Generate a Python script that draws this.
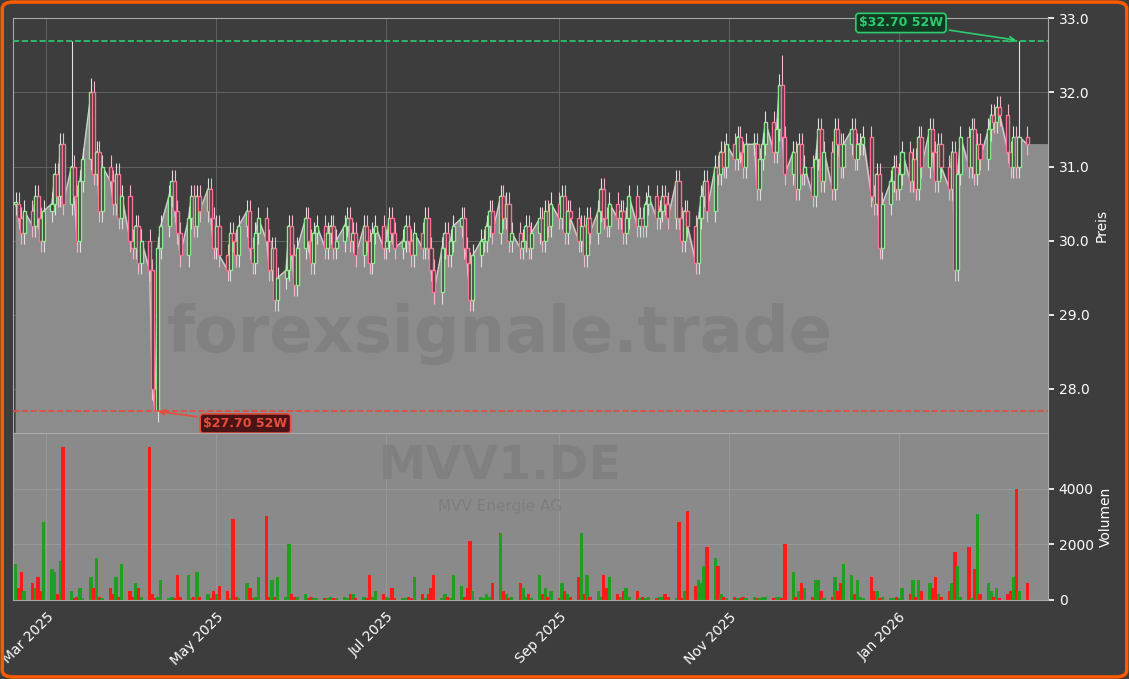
import numpy as np, pandas as pd, matplotlib
matplotlib.use("Agg")
import matplotlib.pyplot as plt, seaborn as sns
import matplotlib.dates as mdates
from matplotlib.patches import FancyBboxPatch

closes = [30.5,30.3,30.1,30.4,30.2,30.6,30.3,30.0,30.4,30.5,
 30.9,30.6,31.3,30.5,31.0,30.6,30.0,30.8,31.1,32.0,
 30.9,31.2,30.4,31.0,30.8,30.5,30.9,30.3,30.6,30.0,
 29.9,30.2,29.7,30.0,29.6,28.0,27.7,29.9,30.2,30.6,
 30.8,30.4,30.1,29.8,30.3,30.6,30.2,30.6,30.4,30.7,
 30.3,29.9,30.2,29.8,29.6,30.1,30.0,29.8,30.2,30.4,
 29.9,29.7,30.1,30.3,30.0,29.6,29.9,29.2,29.5,29.6,
 30.2,29.8,29.4,29.9,30.3,30.0,29.7,30.1,30.2,29.9,
 30.1,30.2,29.9,30.0,30.2,30.3,30.0,30.1,29.8,30.2,
 30.0,29.7,30.1,30.2,29.9,30.0,30.3,30.1,29.9,30.0,
 30.2,30.0,29.8,30.1,29.9,30.3,29.9,29.6,29.3,29.9,
 30.1,29.8,30.0,30.2,30.3,29.9,29.7,29.2,29.8,30.0,
 30.0,30.2,30.4,30.1,30.6,30.3,30.5,30.0,30.1,29.9,
 30.0,30.2,29.9,30.1,30.3,30.0,30.4,30.2,30.5,30.3,
 30.6,30.1,30.4,30.3,30.0,30.2,29.8,30.3,30.1,30.4,
 30.7,30.3,30.2,30.5,30.3,30.4,30.1,30.3,30.6,30.2,
 30.3,30.2,30.5,30.6,30.3,30.4,30.6,30.5,30.3,30.8,
 30.3,30.0,30.4,30.2,29.7,30.3,30.6,30.8,30.4,31.0,
 30.9,31.2,31.0,31.3,31.1,31.4,31.2,31.0,31.3,31.3,
 30.7,31.1,31.3,31.6,31.2,31.5,32.1,31.4,30.9,31.2,
 30.7,31.3,30.9,31.0,30.6,31.1,31.5,30.8,31.2,30.7,
 31.5,31.3,31.0,31.3,31.5,31.1,31.3,31.3,31.4,30.6,
 30.5,30.9,29.9,30.5,30.8,31.0,30.7,30.9,31.2,30.8,
 31.1,30.7,31.4,31.0,31.5,31.2,30.8,31.3,31.0,30.7,
 31.2,29.6,30.9,31.4,31.0,31.5,30.9,31.3,31.1,31.5,
 31.7,31.6,31.8,31.7,31.2,31.0,31.4,31.0,31.4,31.3]
volumes = [1300,400,1000,300,600,400,800,300,2800,1100,1000,200,1400,5500,300,50,100,400,50,800,
 400,1500,100,50,400,200,800,100,1300,300,100,600,400,100,5500,200,50,100,700,50,
 100,50,900,100,900,50,100,1000,100,200,50,300,200,500,300,50,2900,100,50,600,
 400,50,100,800,3000,100,700,100,800,100,2000,200,100,100,200,50,100,50,50,50,
 50,100,50,50,100,50,200,200,50,100,50,900,100,300,200,100,50,400,50,50,
 50,100,50,800,200,50,200,400,900,50,200,100,50,900,500,100,400,2100,300,100,
 50,200,100,600,2400,300,200,50,100,600,
 400,100,200,50,900,200,400,100,300,50,600,300,200,100,800,2400,200,900,100,300,
 100,900,400,800,200,100,300,400,100,300,50,100,50,100,50,100,100,200,100,50,
 2800,50,300,3200,500,700,600,1200,1900,1500,1200,200,100,50,100,50,50,100,50,100,
 50,50,100,100,50,100,100,50,2000,1000,100,300,600,400,100,700,700,300,50,100,
 800,300,600,1300,900,200,700,100,50,800,300,300,50,100,50,50,100,50,400,200,
 700,100,700,300,600,400,800,200,100,300,600,1700,1200,100,1900,50,1100,3100,200,600,
 300,100,400,50,200,300,800,4000,300,600]
spike_highs = {14: 32.7, 19: 32.2, 197: 32.5, 258: 32.7}
high_52w, low_52w = 32.70, 27.70

n = len(closes)
dates = pd.bdate_range("2025-02-18", periods=n)
opens = [closes[0]] + closes[:-1]
highs = [max(o, c) + 0.15 for o, c in zip(opens, closes)]
lows = [min(o, c) - 0.15 for o, c in zip(opens, closes)]
for k, v in spike_highs.items(): highs[k] = v
lows[36] = 27.7
df = pd.DataFrame(dict(date=dates, open=opens, high=highs, low=lows, close=closes, vol=volumes))
up = df.close >= df.open

sns.set_theme(style="dark")
plt.rcParams['font.family'] = ['DejaVu Sans']
BG = "#3d3d3d"
fig = plt.figure(figsize=(11.29, 6.79), dpi=100, facecolor=BG)
ax = fig.add_axes([0.0115, 0.362, 0.917, 0.611])
axv = fig.add_axes([0.0115, 0.117, 0.917, 0.245], sharex=ax)
for a in (ax, axv):
    a.set_facecolor(BG)
    for s in a.spines.values(): s.set_color("#aaaaaa"); s.set_linewidth(0.8)
    a.yaxis.tick_right(); a.yaxis.set_label_position("right")
    a.tick_params(colors="white", labelsize=10, length=4, color="white")
    a.grid(True, color="#666666", linewidth=0.6)
axv.set_facecolor("#8a8a8a")
axv.grid(True, color="#9a9a9a", linewidth=0.6)

xend = dates[-1] + pd.Timedelta(days=7)
fx = list(dates) + [xend]
fy = closes + [closes[-1]]
ax.fill_between(fx, fy, 27.4, color="#8c8c8c", zorder=1)
sns.lineplot(x=dates, y=closes, ax=ax, color="#cfcfcf", linewidth=1, zorder=2)
w = 1.1
for d, o, h, l, c, u in zip(df.date, df.open, df.high, df.low, df.close, up):
    col = "#8fe88f" if u else "#ff6f96"
    ax.vlines(d, l, h, color="#e0e0e0" if u else "#f0b8c8", linewidth=0.8, zorder=3)
    ax.bar(d, max(abs(c - o), 0.02), bottom=min(o, c), width=w, facecolor="#3d3d3d", edgecolor=col, linewidth=1, zorder=4)
ax.axhline(high_52w, color="#2ecc71", ls="--", lw=1.2, zorder=5)
ax.axhline(low_52w, color="#e74c3c", ls="--", lw=1.2, zorder=5)
ax.annotate(f"${high_52w:.2f} 52W", xy=(dates[258], high_52w), xytext=(-85, 8), textcoords="offset points",
            color="#2ecc71", fontsize=9, fontweight="bold", ha="center", va="bottom",
            bbox=dict(boxstyle="round,pad=0.25", fc="#123a22", ec="#2ecc71", lw=1.2),
            arrowprops=dict(arrowstyle="->", color="#2ecc71", lw=1.2))
ax.annotate(f"${low_52w:.2f} 52W", xy=(dates[36], low_52w), xytext=(65, -9), textcoords="offset points",
            color="#e74c3c", fontsize=9, fontweight="bold", ha="center", va="center",
            bbox=dict(boxstyle="round,pad=0.25", fc="#4a1414", ec="#e74c3c", lw=1.2),
            arrowprops=dict(arrowstyle="->", color="#e74c3c", lw=1.2))
ax.set_ylim(27.4, 33.0)
ax.set_yticks([28, 29, 30, 31, 32, 33])
ax.yaxis.set_major_formatter(matplotlib.ticker.FormatStrFormatter("%.1f"))
ax.set_ylabel("Preis", color="white", fontsize=10)
ax.set_xlim(dates[0] - pd.Timedelta(days=1), xend + pd.Timedelta(days=0.5))
ax.text(0.47, 0.24, "forexsignale.trade", transform=ax.transAxes, ha="center", va="center",
        fontsize=46, fontweight="bold", color="#6e6e6e", alpha=0.35, zorder=6)
ax.tick_params(axis="x", labelbottom=False, length=0)
ax.set_xlabel("")

axv.bar(df.date, df.vol, width=1.2, color=np.where(up, "#1f9e1f", "#ff1a1a"), linewidth=0)
axv.set_ylim(0, 6000)
axv.set_yticks([0, 2000, 4000])
axv.set_ylabel("Volumen", color="white", fontsize=10)
axv.text(0.47, 0.8, "MVV1.DE", transform=axv.transAxes, ha="center", va="center",
         fontsize=34, fontweight="bold", color="#7a7a7a", alpha=0.6)
axv.text(0.47, 0.56, "MVV Energie AG", transform=axv.transAxes, ha="center", va="center",
         fontsize=11, color="#7a7a7a", alpha=0.8)
axv.xaxis.set_major_locator(mdates.MonthLocator(bymonth=[1, 3, 5, 7, 9, 11]))
axv.xaxis.set_major_formatter(mdates.DateFormatter("%b %Y"))
plt.setp(axv.get_xticklabels(), rotation=45, ha="right", rotation_mode="anchor")

fig.patches.append(FancyBboxPatch((0.002, 0.003), 0.996, 0.994, boxstyle="round,pad=0,rounding_size=0.01",
                                  transform=fig.transFigure, fc="none", ec="#ff5a00", lw=2.5))
fig.savefig("out.png", dpi=100, facecolor=BG)
